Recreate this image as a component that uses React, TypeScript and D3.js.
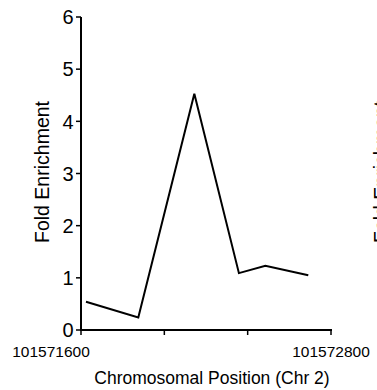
import React from "react";
import * as d3 from "d3";

const positions = [101571624, 101571875, 101572144, 101572358, 101572485, 101572691];
const enrichment = [0.54, 0.24, 4.53, 1.09, 1.23, 1.05];
const yTicks = [0, 1, 2, 3, 4, 5, 6];
const xTicks = [101571600, 101572000, 101572400, 101572800];
const xTickLabels = ["101571600", "", "", "101572800"];

const W = 377;
const H = 390;
const FONT = "'Liberation Sans', Arial, Helvetica, sans-serif";

export default function App() {
  const x = d3.scaleLinear().domain([101571600, 101572800]).range([81, 331]);
  const y = d3.scaleLinear().domain([0, 6]).range([330, 17]);
  const line = d3
    .line<number>()
    .x((_, i) => x(positions[i]))
    .y((d) => y(d));
  const path = line(enrichment) || "";
  return (
    <svg
      width={W}
      height={H}
      style={{ position: "absolute", left: 0, top: 0, background: "#fff" }}
      fontFamily={FONT}
    >
      <rect width={W} height={H} fill="#fff" />
      {/* y axis */}
      <line x1={x.range()[0]} x2={x.range()[0]} y1={y(0) + 1} y2={y(6)} stroke="#000" strokeWidth={2} />
      {yTicks.map((t) => (
        <g key={t}>
          <line x1={x.range()[0] - 5} x2={x.range()[0]} y1={y(t)} y2={y(t)} stroke="#000" strokeWidth={1.5} />
          <text x={x.range()[0] - 7.5} y={y(t)} dy="0.36em" textAnchor="end" fontSize={20}>
            {t}
          </text>
        </g>
      ))}
      {/* x axis */}
      <line x1={x.range()[0] - 1} x2={x.range()[1] + 1} y1={y(0)} y2={y(0)} stroke="#000" strokeWidth={2} />
      {xTicks.map((t, i) => (
        <g key={t}>
          <line x1={x(t)} x2={x(t)} y1={y(0)} y2={y(0) + 5} stroke="#000" strokeWidth={1.5} />
          {xTickLabels[i] && (
            <text x={x(t) + (i === 0 ? -30 : 0)} y={357} textAnchor="middle" fontSize={15.5}>
              {xTickLabels[i]}
            </text>
          )}
        </g>
      ))}
      <path d={path} fill="none" stroke="#000" strokeWidth={2} strokeLinejoin="miter" />
      <text x={212} y={384} textAnchor="middle" fontSize={17.5}>
        Chromosomal Position (Chr 2)
      </text>
      <text transform="translate(49,172) rotate(-90)" textAnchor="middle" fontSize={19.5}>
        Fold Enrichment
      </text>
      <text transform="translate(388,172) rotate(-90)" textAnchor="middle" fontSize={19.5}>
        Fold Enrichment
      </text>
    </svg>
  );
}
